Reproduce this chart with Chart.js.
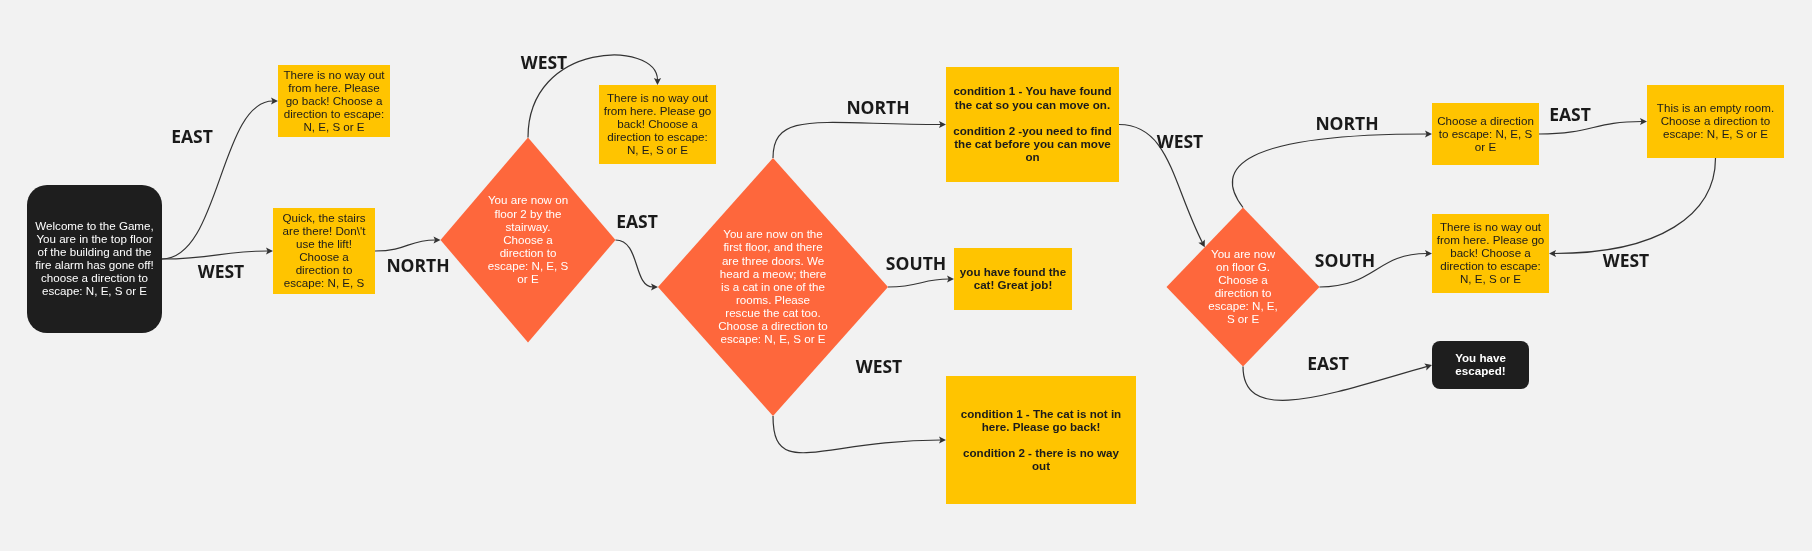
<!DOCTYPE html>
<html>
<head>
<meta charset="utf-8">
<title>Escape game flow</title>
<script src="https://cdn.jsdelivr.net/npm/chart.js@4"></script>
<style>
    html, body { margin: 0; padding: 0; background: #f2f2f2; }
    #flow { display: block; }
</style>
</head>
<body>
<canvas id="flow" width="1812" height="551"></canvas>
<script>
// ---- data: what each step says and how the steps link ----
const nodeTexts = [
    ["Welcome to the Game,", "You are in the top floor", "of the building and the", "fire alarm has gone off!", "choose a direction to", "escape: N, E, S or E"],
    ["There is no way out", "from here. Please", "go back! Choose a", "direction to escape:", "N, E, S or E"],
    ["Quick, the stairs", "are there! Don\\'t", "use the lift!", "Choose a", "direction to", "escape: N, E, S"],
    ["You are now on", "floor 2 by the", "stairway.", "Choose a", "direction to", "escape: N, E, S", "or E"],
    ["There is no way out", "from here. Please go", "back! Choose a", "direction to escape:", "N, E, S or E"],
    ["You are now on the", "first floor, and there", "are three doors. We", "heard a meow; there", "is a cat in one of the", "rooms. Please", "rescue the cat too.", "Choose a direction to", "escape: N, E, S or E"],
    ["condition 1 - You have found", "the cat so you can move on.", "", "condition 2 -you need to find", "the cat before you can move", "on"],
    ["you have found the", "cat! Great job!"],
    ["condition 1 - The cat is not in", "here. Please go back!", "", "condition 2 - there is no way", "out"],
    ["You are now", "on floor G.", "Choose a", "direction to", "escape: N, E,", "S or E"],
    ["Choose a direction", "to escape: N, E, S", "or E"],
    ["There is no way out", "from here. Please go", "back! Choose a", "direction to escape:", "N, E, S or E"],
    ["You have", "escaped!"],
    ["This is an empty room.", "Choose a direction to", "escape: N, E, S or E"]
];
const nodeKinds = ["start", "box", "box", "diamond", "box", "diamond", "note", "note", "note", "diamond", "box", "box", "end", "box"];

const linkFrom   = [0, 0, 2, 3, 3, 5, 5, 5, 6, 9, 9, 9, 10, 13];
const linkTo     = [1, 2, 3, 4, 5, 6, 7, 8, 9, 10, 11, 12, 13, 11];
const linkLabels = ["EAST", "WEST", "NORTH", "WEST", "EAST", "NORTH", "SOUTH", "WEST", "WEST", "NORTH", "SOUTH", "EAST", "EAST", "WEST"];

// ---- layout (board units, one unit per screen pixel) ----
const nodeX = [94.5, 334, 324, 528, 657.5, 773, 1032.5, 1013, 1041, 1243, 1485.5, 1490.5, 1480.5, 1715.5];
const nodeY = [259, 101, 251, 240, 124.5, 287, 124.5, 279, 440, 287, 134, 253.5, 365, 121.5];
const nodeW = [135, 112, 102, 175, 117, 230, 173, 118, 190, 153, 107, 117, 97, 137];
const nodeH = [148, 72, 86, 205, 79, 258, 115, 62, 128, 159, 62, 79, 48, 73];

const linkFromSide = ["r", "r", "r", "t", "r", "t", "r", "b", "r", "t", "r", "b", "r", "b"];
const linkToSide   = ["l", "l", "l", "t", "l", "l", "l", "l", "tl", "l", "l", "l", "l", "r"];
// bezier handles: [dx, dy] off the start anchor, then [dx, dy] off the end anchor
const linkHandles = [
    [58, 0, -58, 0],
    [55, 0, -55, 0],
    [33, 0, -33, 0],
    [0, -97, 0, -45],
    [25, 0, -25, 0],
    [0, -48, -126, 0],
    [33, 0, -33, 0],
    [0, 65, -126, 0],
    [50, 0, -32, -63],
    [-31, -40, -190, 0],
    [56, 0, -56, 0],
    [0, 60, -102, 29],
    [54, 0, -54, 0],
    [0, 57, 110, 0]
];
const labelX = [192, 221, 418, 544, 637, 878, 916, 879, 1180, 1347, 1345, 1328, 1570, 1626];
const labelY = [137, 272, 266, 63, 222, 108, 264, 367, 142, 124, 261, 364, 115, 261];

const kindStyle = {
    start:   { fill: "#1e1e1e", text: "#ffffff", bold: false, radius: 20 },
    end:     { fill: "#1e1e1e", text: "#ffffff", bold: true, radius: 8 },
    box:     { fill: "#ffc400", text: "#1b1b1b", bold: false, radius: 0 },
    note:    { fill: "#ffc400", text: "#1b1b1b", bold: true, radius: 0 },
    diamond: { fill: "#fe673c", text: "#ffffff", bold: false, radius: 0 }
};

function anchor(i, side) {
    const x = nodeX[i], y = nodeY[i], w = nodeW[i] / 2, h = nodeH[i] / 2;
    if (side === "l") return [x - w, y];
    if (side === "r") return [x + w, y];
    if (side === "t") return [x, y - h];
    if (side === "b") return [x, y + h];
    return [x - w / 2, y - h / 2];
}

const flowPlugin = {
    id: "flow",
    beforeDraw(chart) {
        const ctx = chart.ctx;
        ctx.save();
        ctx.fillStyle = "#f2f2f2";
        ctx.fillRect(0, 0, chart.width, chart.height);
        ctx.restore();
    },
    afterDatasetsDraw(chart) {
        const ctx = chart.ctx;
        const sx = chart.scales.x, sy = chart.scales.y;
        const px = v => sx.getPixelForValue(v);
        const py = v => sy.getPixelForValue(v);
        const points = chart.getDatasetMeta(0).data;

        // nodes
        points.forEach((pt, i) => {
            const st = kindStyle[nodeKinds[i]];
            const w = px(nodeX[i] + nodeW[i] / 2) - px(nodeX[i] - nodeW[i] / 2);
            const h = py(nodeY[i] + nodeH[i] / 2) - py(nodeY[i] - nodeH[i] / 2);
            ctx.save();
            ctx.fillStyle = st.fill;
            ctx.beginPath();
            if (nodeKinds[i] === "diamond") {
                ctx.moveTo(pt.x, pt.y - h / 2);
                ctx.lineTo(pt.x + w / 2, pt.y);
                ctx.lineTo(pt.x, pt.y + h / 2);
                ctx.lineTo(pt.x - w / 2, pt.y);
                ctx.closePath();
            } else {
                ctx.roundRect(pt.x - w / 2, pt.y - h / 2, w, h, st.radius);
            }
            ctx.fill();

            ctx.fillStyle = st.text;
            ctx.font = (st.bold ? "bold " : "") + "11.6px 'Liberation Sans', Arial, sans-serif";
            ctx.textAlign = "center";
            ctx.textBaseline = "middle";
            const lines = nodeTexts[i];
            const lh = 13.1;
            const top = pt.y - (lines.length - 1) * lh / 2;
            lines.forEach((line, j) => ctx.fillText(line, pt.x, top + j * lh + 0.5));
            ctx.restore();
        });

        // connectors
        ctx.save();
        ctx.strokeStyle = "#333333";
        ctx.fillStyle = "#333333";
        ctx.lineWidth = 1.2;
        linkFrom.forEach((a, k) => {
            const b = linkTo[k];
            const p0 = anchor(a, linkFromSide[k]);
            const p3 = anchor(b, linkToSide[k]);
            const hd = linkHandles[k];
            const x0 = px(p0[0]), y0 = py(p0[1]);
            const x1 = px(p0[0] + hd[0]), y1 = py(p0[1] + hd[1]);
            const x2 = px(p3[0] + hd[2]), y2 = py(p3[1] + hd[3]);
            const x3 = px(p3[0]), y3 = py(p3[1]);
            const ang = Math.atan2(y3 - y2, x3 - x2);
            const len = 7, half = 3.6;
            const bx = x3 - len * Math.cos(ang), by = y3 - len * Math.sin(ang);

            ctx.beginPath();
            ctx.moveTo(x0, y0);
            ctx.bezierCurveTo(x1, y1, x2, y2, bx + 2 * Math.cos(ang), by + 2 * Math.sin(ang));
            ctx.stroke();

            ctx.beginPath();
            ctx.moveTo(x3, y3);
            ctx.lineTo(bx - half * Math.sin(ang), by + half * Math.cos(ang));
            ctx.lineTo(bx + 1.5 * Math.cos(ang), by + 1.5 * Math.sin(ang));
            ctx.lineTo(bx + half * Math.sin(ang), by - half * Math.cos(ang));
            ctx.closePath();
            ctx.fill();
        });
        ctx.restore();

        // direction labels
        ctx.save();
        ctx.fillStyle = "#1a1a1a";
        ctx.font = "bold 17.5px 'Open Sans', 'Noto Sans', sans-serif";
        ctx.textAlign = "center";
        ctx.textBaseline = "middle";
        linkLabels.forEach((t, k) => ctx.fillText(t, px(labelX[k]), py(labelY[k]) + 1));
        ctx.restore();
    }
};

new Chart(document.getElementById("flow"), {
    type: "scatter",
    data: {
        datasets: [{
            label: "steps",
            data: nodeX.map((x, i) => ({ x: x, y: nodeY[i] })),
            pointRadius: 0,
            pointHoverRadius: 0
        }]
    },
    options: {
        responsive: false,
        devicePixelRatio: 1,
        animation: false,
        events: [],
        layout: { padding: 0 },
        scales: {
            x: { type: "linear", min: 0, max: 1812, display: false },
            y: { type: "linear", min: 0, max: 551, reverse: true, display: false }
        },
        plugins: {
            legend: { display: false },
            tooltip: { enabled: false }
        }
    },
    plugins: [flowPlugin]
});
</script>
</body>
</html>
